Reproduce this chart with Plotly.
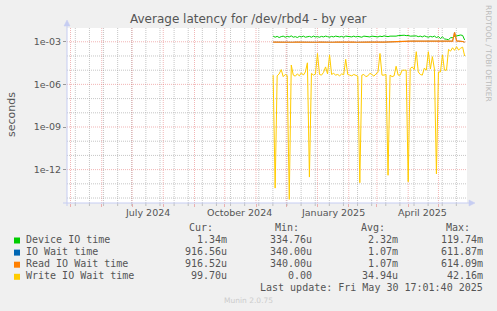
import pandas as pd
import plotly.graph_objects as go

# ---------------- data ----------------
start_date = "2024-11-18"
step = "2D"

device_io_ms = [
    2.5, 2.1, 2.4, 2.0, 2.3, 2.5, 2.1, 2.4, 2.2, 2.6,
    2.1, 2.3, 2.0, 2.4, 2.2, 2.5, 2.1, 2.3, 2.4, 2.1,
    2.5, 2.2, 2.3, 2.1, 2.4, 2.2, 2.5, 2.3, 2.1, 2.4,
    2.2, 2.5, 2.3, 2.2, 2.4, 2.1, 2.5, 2.3, 2.4, 2.2,
    2.5, 2.2, 2.4, 2.3, 2.1, 2.5, 2.3, 2.4, 2.2, 2.5,
    2.3, 2.4, 2.2, 2.5, 2.3, 2.6, 2.4, 2.3, 2.5, 2.4,
    2.6, 2.5, 2.7, 2.8, 2.6, 2.9, 2.7, 2.8, 2.5, 2.6,
    2.4, 2.6, 2.3, 2.5, 2.2, 2.6, 2.3, 2.1, 2.4, 2.2,
    2.5, 2.0, 2.3, 1.7, 2.2, 1.6, 1.5, 1.4, 1.9, 2.0,
    2.4, 2.6, 2.9, 3.0, 2.8, 1.34,
]

io_wait_ms = [
    0.95, 0.94, 0.96, 0.93, 0.95, 0.94, 0.92, 0.95, 0.96, 0.94,
    0.93, 0.95, 0.94, 0.96, 0.93, 0.95, 0.94, 0.92, 0.95, 0.96,
    0.94, 0.95, 0.93, 0.96, 0.94, 0.95, 0.93, 0.94, 0.96, 0.95,
    0.93, 0.94, 0.95, 0.96, 0.94, 0.93, 0.95, 0.94, 0.96, 0.95,
    0.94, 0.93, 0.95, 0.96, 0.94, 0.95, 0.93, 0.95, 0.96, 0.94,
    0.95, 0.93, 0.94, 0.96, 0.95, 0.94, 0.96, 0.95, 0.94, 0.96,
    0.97, 0.98, 0.99, 1.00, 1.02, 1.05, 1.10, 1.12, 1.10, 1.11,
    1.09, 1.10, 1.12, 1.10, 1.08, 1.10, 1.11, 1.09, 1.10, 1.12,
    1.10, 1.09, 1.11, 1.10, 1.12, 1.10, 1.11, 1.09, 1.12, 1.10,
    4.6, 1.15, 1.12, 1.10, 1.05, 0.91656,
]

read_wait_ms = [
    0.95, 0.94, 0.96, 0.93, 0.95, 0.94, 0.92, 0.95, 0.96, 0.94,
    0.93, 0.95, 0.94, 0.96, 0.93, 0.95, 0.94, 0.92, 0.95, 0.96,
    0.94, 0.95, 0.93, 0.96, 0.94, 0.95, 0.93, 0.94, 0.96, 0.95,
    0.93, 0.94, 0.95, 0.96, 0.94, 0.93, 0.95, 0.94, 0.96, 0.95,
    0.94, 0.93, 0.95, 0.96, 0.94, 0.95, 0.93, 0.95, 0.96, 0.94,
    0.95, 0.93, 0.94, 0.96, 0.95, 0.94, 0.96, 0.95, 0.94, 0.96,
    0.97, 0.98, 0.99, 1.00, 1.02, 1.05, 1.10, 1.12, 1.10, 1.11,
    1.09, 1.10, 1.12, 1.10, 1.08, 1.10, 1.11, 1.09, 1.10, 1.12,
    1.10, 1.09, 1.11, 1.10, 1.12, 1.10, 1.11, 1.09, 1.12, 1.10,
    4.6, 1.15, 1.12, 1.10, 1.05, 0.91652,
]

write_wait_s = [
    4.5e-6, 5e-14, 4.0e-6, 5.5e-6, 1.1e-5, 3.5e-6, 5.0e-6, 4.2e-6, 8e-15, 2.3e-5,
    4.5e-6, 3.8e-6, 5.5e-6, 4.0e-6, 6.5e-6, 4.5e-6, 7.5e-6, 3.3e-5, 3e-13, 6.0e-6,
    4.5e-6, 5.5e-6, 1.5e-4, 5.0e-6, 4.5e-6, 7.0e-6, 1.7e-5, 5.5e-6, 1.2e-4, 5.0e-6,
    6.0e-6, 4.5e-6, 5.0e-6, 4.0e-6, 5.5e-6, 4.8e-6, 5.8e-5, 5.0e-6, 4.5e-6, 4.0e-6,
    5.0e-6, 4.5e-6, 3.8e-6, 1.2e-13, 4.5e-6, 5.0e-6, 3.5e-6, 4.0e-6, 6.0e-6, 5.0e-6,
    3.8e-6, 5.5e-6, 7.0e-6, 1.5e-4, 4.5e-6, 4.5e-6, 5.0e-6, 4e-13, 4.5e-6, 3.5e-6,
    4.0e-6, 1.9e-5, 4.5e-6, 4.5e-6, 1.0e-5, 1.0e-5, 1.0e-5, 1.4e-13, 1.3e-5, 1.7e-5,
    1.1e-5, 2.0e-4, 7.5e-6, 5.0e-6, 4.5e-6, 1.4e-5, 1.0e-5, 2.0e-4, 1.2e-5, 9.0e-5,
    1.2e-5, 5e-13, 7.5e-6, 7.5e-6, 1.2e-4, 1.0e-5, 1.0e-5, 2.9e-4, 2.2e-4, 3.8e-4,
    2.5e-4, 4.5e-4, 2.6e-4, 3.5e-4, 4.2e-4, 9.97e-5,
]

legend_names = ["Device IO time", "IO Wait time", "Read IO Wait time", "Write IO Wait time"]
legend_colors = ["#00CC00", "#0066B3", "#FF8000", "#FFCC00"]
cur_vals = ["1.34m", "916.56u", "916.52u", "99.70u"]
min_vals = ["334.76u", "340.00u", "340.00u", "0.00"]
avg_vals = ["2.32m", "1.07m", "1.07m", "34.94u"]
max_vals = ["119.74m", "611.87m", "614.09m", "42.16m"]

y_tick_vals = [1e-12, 1e-9, 1e-6, 1e-3]
y_tick_text = ["1e-12", "1e-09", "1e-06", "1e-03"]
x_label_dates = ["2024-07-16", "2024-10-16", "2025-01-16", "2025-04-15 12:00"]
x_label_text = ["July 2024", "October 2024", "January 2025", "April 2025"]

title_text = "Average latency for /dev/rbd4 - by year"
last_update = "Last update: Fri May 30 17:01:40 2025"

# ---------------- layout helpers ----------------
W, H = 497, 311
L, R, T, B = 67, 467, 28, 203


def px(x):
    return (x - L) / (R - L)


def py(y):
    return (B - y) / (B - T)


x_range = ["2024-04-27 12:00", "2025-05-29 08:00"]
x0_ts = pd.Timestamp(x_range[0])
x1_ts = pd.Timestamp(x_range[1])


def date_to_paper(d):
    return (pd.Timestamp(d) - x0_ts) / (x1_ts - x0_ts)


month_starts = [d.strftime("%Y-%m-%d") for d in pd.date_range("2024-05-01", "2025-05-01", freq="MS")]
minor_x = [d.strftime("%Y-%m-%d %H:%M") for d in pd.date_range("2024-05-05 18:00", "2025-05-29", freq="14D")]
minor_y = [10.0 ** (-k) for k in range(3, 15) if k % 3 != 0]

RED = "rgba(230,110,110,0.5)"
GRAY = "rgba(160,160,160,0.6)"
TXT = "#555555"
AXC = "#c6cdf2"

dates = pd.date_range(start_date, periods=len(device_io_ms), freq=step)

fig = go.Figure()
series = [
    (legend_names[0], [v * 1e-3 for v in device_io_ms], legend_colors[0], 1.0),
    (legend_names[1], [v * 1e-3 for v in io_wait_ms], legend_colors[1], 0.5),
    (legend_names[2], [v * 1e-3 for v in read_wait_ms], legend_colors[2], 1.2),
    (legend_names[3], write_wait_s, legend_colors[3], 1.0),
]
for name, vals, col, w in series:
    fig.add_trace(go.Scatter(x=dates, y=vals, name=name, mode="lines",
                             line=dict(color=col, width=w), hoverinfo="skip",
                             showlegend=False))

fig.update_layout(
    template="none",
    width=W, height=H,
    margin=dict(l=L, r=W - R, t=T, b=H - B, pad=0),
    paper_bgcolor="#F0F0F0",
    plot_bgcolor="#FFFFFF",
    font=dict(family="DejaVu Sans", color=TXT, size=10),
    showlegend=False,
    hovermode=False,
    xaxis=dict(
        type="date", range=x_range, tickmode="array", tickvals=month_starts,
        showticklabels=False, showgrid=False,
        ticks="outside", ticklen=3, tickcolor=RED, tickwidth=1,
        showline=False, zeroline=False, fixedrange=True,
    ),
    yaxis=dict(
        type="log", range=[-14.35, -2.03], tickmode="array", tickvals=y_tick_vals,
        ticktext=y_tick_text, showgrid=False,
        ticks="outside", ticklen=3, tickcolor="#999999", tickwidth=1,
        showline=False, zeroline=False, fixedrange=True,
        tickfont=dict(family="DejaVu Sans", size=9.5, color=TXT),
    ),
)

shapes = [dict(type="rect", xref="paper", yref="paper", x0=0, x1=1, y0=0, y1=1,
               fillcolor="#FFFFFF", line=dict(width=0), layer="between")]
# minor grid (gray dotted)
for d in minor_x:
    shapes.append(dict(type="line", xref="x", yref="y", x0=d, x1=d, y0=10 ** -14.35, y1=10 ** -2.03,
                       line=dict(color=GRAY, width=1, dash="1px,1px"), layer="between"))
for v in minor_y:
    shapes.append(dict(type="line", xref="x", yref="y", x0=x_range[0], x1=x_range[1], y0=v, y1=v,
                       line=dict(color=GRAY, width=1, dash="1px,1px"), layer="between"))
# major grid (red dotted)
for d in month_starts:
    shapes.append(dict(type="line", xref="x", yref="y", x0=d, x1=d, y0=10 ** -14.35, y1=10 ** -2.03,
                       line=dict(color=RED, width=1, dash="1px,1px"), layer="between"))
for v in y_tick_vals:
    shapes.append(dict(type="line", xref="x", yref="y", x0=x_range[0], x1=x_range[1], y0=v, y1=v,
                       line=dict(color=RED, width=1, dash="1px,1px"), layer="between"))
# minor tick marks under x axis
for d in minor_x:
    shapes.append(dict(type="line", xref="x", yref="paper", x0=d, x1=d, y0=py(206), y1=py(203),
                       line=dict(color=GRAY, width=1), layer="above"))

shapes += [
    dict(type="line", xref="paper", yref="paper", x0=px(67), x1=px(67), y0=py(206), y1=py(24),
         line=dict(color=AXC, width=1), layer="above"),
    dict(type="path", xref="paper", yref="paper",
         path=f"M {px(64)},{py(26)} L {px(70)},{py(26)} L {px(67)},{py(20)} Z",
         fillcolor=AXC, line=dict(color=AXC, width=0.5), layer="above"),
    dict(type="line", xref="paper", yref="paper", x0=px(63), x1=px(470), y0=py(203), y1=py(203),
         line=dict(color=AXC, width=1), layer="above"),
    dict(type="path", xref="paper", yref="paper",
         path=f"M {px(469)},{py(200)} L {px(469)},{py(206)} L {px(475)},{py(203)} Z",
         fillcolor=AXC, line=dict(color=AXC, width=0.5), layer="above"),
]

row_y = [239.5, 251.6, 263.7, 275.8]
for i, col in enumerate(legend_colors):
    shapes.append(dict(type="rect", xref="paper", yref="paper",
                       x0=px(14), x1=px(20), y0=py(row_y[i] + 4), y1=py(row_y[i] - 2),
                       fillcolor=col, line=dict(width=0)))
fig.update_layout(shapes=shapes)

MONO = "DejaVu Sans Mono"


def ann(text, x, y, xanchor="center", size=10, family=MONO, color=TXT, angle=0, xp=None):
    fig.add_annotation(text=text, xref="paper", yref="paper",
                       x=px(x) if xp is None else xp, y=py(y),
                       xanchor=xanchor, yanchor="middle", showarrow=False,
                       textangle=angle, borderpad=0, borderwidth=0,
                       font=dict(family=family, size=size, color=color))


ann(title_text, 248, 19, size=12, family="DejaVu Sans")
ann("seconds", 11, 114, size=11, family="DejaVu Sans", angle=-90)
ann("RRDTOOL / TOBI OETIKER", 489, 53, size=7.5, family="DejaVu Sans", color="#bbbbbb", angle=90)

for d, t in zip(x_label_dates, x_label_text):
    ann(t, 0, 212, size=9.5, family="DejaVu Sans", xp=date_to_paper(d))

headers = [("Cur:", 213), ("Min:", 298.5), ("Avg:", 384.5), ("Max:", 470)]
for h, x in headers:
    ann(h, x, 227.3, xanchor="right")

cols = [(cur_vals, 226.5), (min_vals, 312), (avg_vals, 397.5), (max_vals, 483)]
for i, name in enumerate(legend_names):
    ann(name, 26, row_y[i], xanchor="left")
    for vals, x in cols:
        ann(vals[i], x, row_y[i], xanchor="right")

ann(last_update, 483, 287.8, xanchor="right")
ann("Munin 2.0.75", 248, 300, size=7.5, family="DejaVu Sans", color="#cccccc")

fig.write_html("out.html", config={"displayModeBar": False})
